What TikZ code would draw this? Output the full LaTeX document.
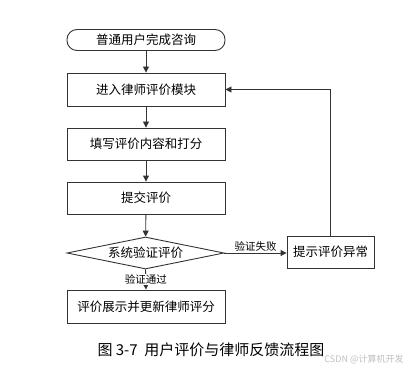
\documentclass[tikz,border=0pt]{standalone}
\usepackage{fontspec}
\setmainfont{Noto Sans CJK SC}
\usetikzlibrary{arrows.meta,shapes.geometric}

\tikzset{
	flowbox/.style={draw=black!80, rectangle, minimum width=158pt, minimum height=33pt, inner sep=0pt, font=\fontsize{12.5}{15}\selectfont},
	startbox/.style={flowbox, minimum height=21pt, rounded corners=10pt},
	checkbox/.style={draw=black!80, diamond, aspect=5, minimum width=157pt, minimum height=32pt, inner sep=0pt, font=\fontsize{12.5}{15}\selectfont},
	warnbox/.style={flowbox, minimum width=87pt, minimum height=32pt},
	flowarrow/.style={draw=black!80, -{Triangle[length=6pt,width=6pt]}},
	edgelabel/.style={font=\fontsize{10.5}{12}\selectfont, inner sep=1pt}
}

\begin{document}
\begin{tikzpicture}[x=1pt, y=-1pt, line width=0.9pt]
		
		\useasboundingbox (0,0) rectangle (411,371);
		
		\node[startbox] (start) at (146,40) {普通用户完成咨询};
		\node[flowbox] (enter) at (146,89.5) {进入律师评价模块};
		\node[flowbox, minimum height=32pt] (fill) at (146,144) {填写评价内容和打分};
		\node[flowbox, minimum height=32pt] (submit) at (146,198) {提交评价};
		\node[checkbox] (check) at (145.5,253) {系统验证评价};
		\node[flowbox] (update) at (146,306.5) {评价展示并更新律师评分};
		\node[warnbox] (warn) at (330.5,252) {提示评价异常};
		
		\draw[flowarrow] (start) -- (enter);
		\draw[flowarrow] (enter) -- (fill);
		\draw[flowarrow] (fill) -- (submit);
		\draw[flowarrow] (submit) -- (check);
		
		\draw[flowarrow] (check.south) -- (update.north)
		node[edgelabel, midway, fill=white] (passlabel) {验证通过};
		\draw[flowarrow] (check.east) -- (warn.west |- check.east)
		node[edgelabel, midway, above] (faillabel) {验证失败};
		
		% back to the module
		\draw[flowarrow] (warn.north) |- (enter.east);
		
		\node[font=\fontsize{15}{18}\selectfont] (caption) at (211,350) {图 3-7\ \ 用户评价与律师反馈流程图};
		\node[font=\fontsize{9}{11}\selectfont, text=black!25] (mark) at (364,359) {CSDN @计算机开发};
		
	\end{tikzpicture}
\end{document}
